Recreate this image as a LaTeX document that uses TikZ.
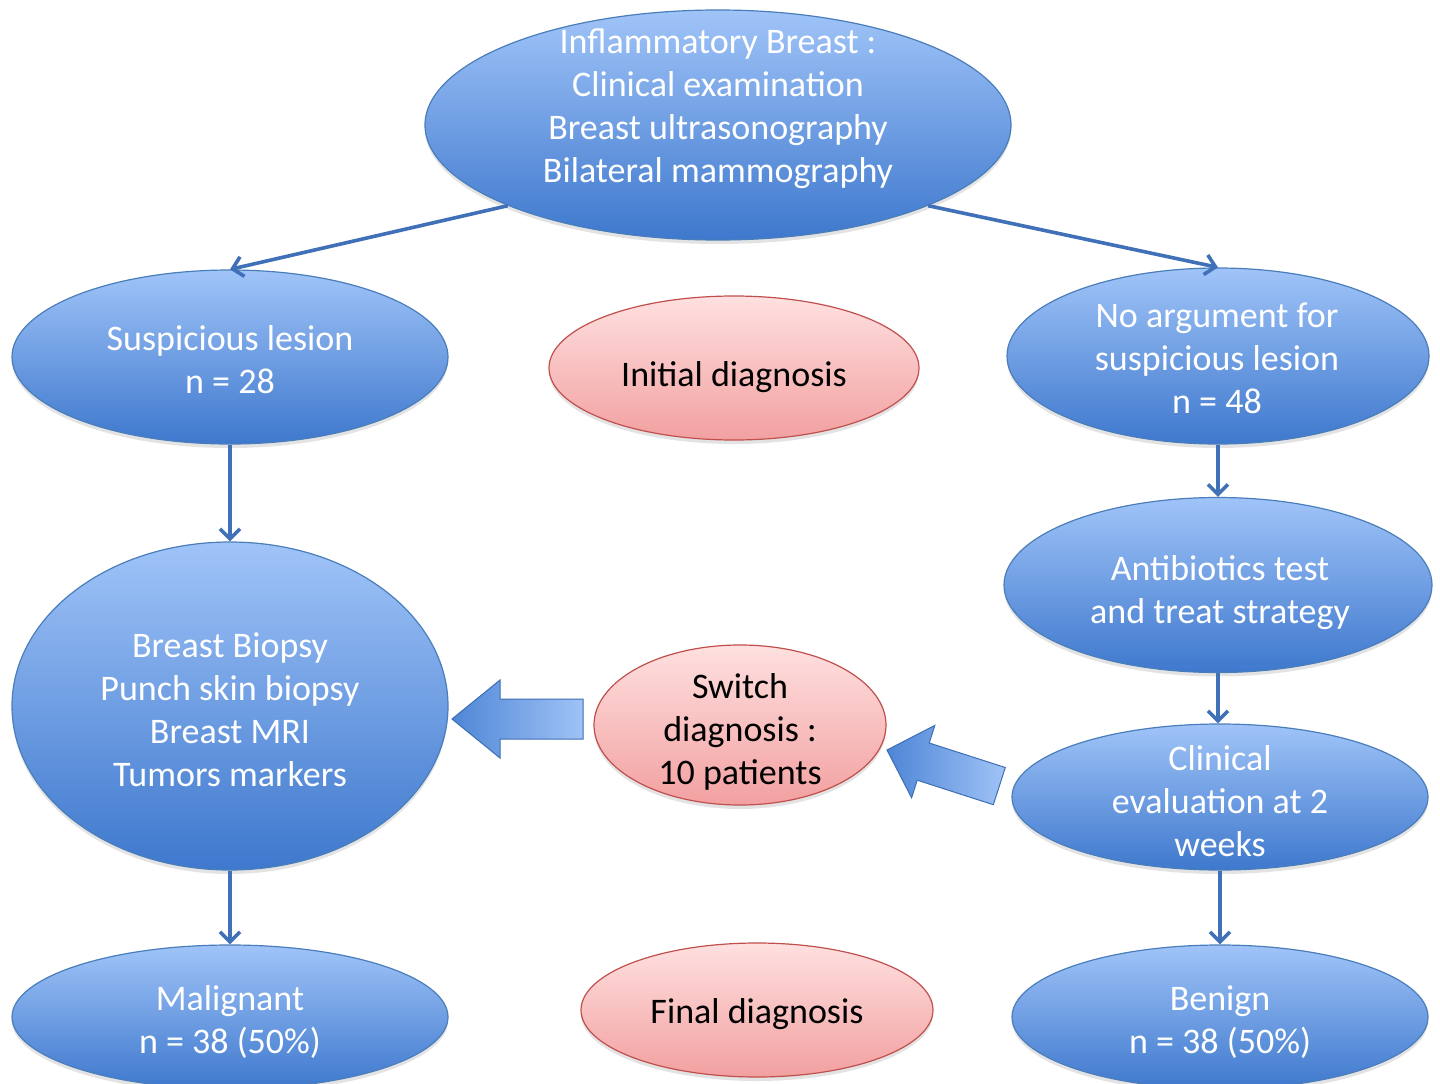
\documentclass[tikz,border=0pt]{standalone}
\usepackage{fontspec}
\setmainfont{Carlito}
\usetikzlibrary{shapes.geometric,arrows.meta,shadows}
\definecolor{bluetop}{RGB}{160,196,248}
\definecolor{bluebot}{RGB}{62,120,205}
\definecolor{blueline}{RGB}{74,126,187}
\definecolor{pinktop}{RGB}{255,224,224}
\definecolor{pinkbot}{RGB}{242,160,160}
\definecolor{pinkline}{RGB}{192,80,77}
\definecolor{connblue}{RGB}{64,112,184}
\definecolor{badark}{RGB}{78,134,214}
\definecolor{balight}{RGB}{160,195,246}
\definecolor{baline}{RGB}{62,110,180}
\begin{document}
\begin{tikzpicture}[x=1pt,y=-1pt,
  ell/.style={ellipse, inner sep=0pt, line width=1.2pt,
    drop shadow={opacity=0.22, shadow xshift=0pt, shadow yshift=-4pt}},
  blueell/.style={ell, draw=blueline, top color=bluetop, bottom color=bluebot},
  pinkell/.style={ell, draw=pinkline, top color=pinktop, bottom color=pinkbot},
  sz/.style 2 args={minimum width=#1pt, minimum height=#2pt},
  lbl/.style={align=center, inner sep=0pt, font=\fontsize{36}{43}\selectfont,
    execute at begin node=\strut, execute at end node=\strut},
  wlbl/.style={lbl, text=white},
  blbl/.style={lbl, text=black},
  conn/.style={draw=connblue, line width=3.6pt, -{Straight Barb[length=10pt,width=20pt,line width=3.6pt]}},
  blockarrow/.style={draw=baline, line width=1pt, left color=badark, right color=balight}
]
\useasboundingbox[fill=white] (0,0) rectangle (1440,1084);

% ellipses
\node[blueell, sz={586}{230}] (top) at (718,125) {};
\node[blueell, sz={436}{174}] (susp) at (230,357) {};
\node[pinkell, sz={370}{144}] (init) at (734,368) {};
\node[blueell, sz={422}{176}] (noarg) at (1218,356) {};
\node[blueell, sz={428}{175}] (anti) at (1218,585) {};
\node[blueell, sz={436}{328}] (biopsy) at (230,706) {};
\node[pinkell, sz={292}{160}] (switch) at (740,725) {};
\node[blueell, sz={416}{146}] (clin) at (1220,797) {};
\node[blueell, sz={436}{144}] (malig) at (230,1017) {};
\node[pinkell, sz={352}{134}] (final) at (757,1010) {};
\node[blueell, sz={416}{144}] (benign) at (1220,1017) {};

% texts
\node[wlbl] (toptxt) at (718,112) {Inflammatory Breast :\\Clinical examination\\Breast ultrasonography\\Bilateral mammography};
\node[wlbl] (susptxt) at (230,366) {Suspicious lesion\\n = 28};
\node[blbl] (inittxt) at (734,378) {Initial diagnosis};
\node[wlbl] (noargtxt) at (1217,365) {No argument for\\suspicious lesion\\n = 48};
\node[wlbl] (antitxt) at (1220,596) {Antibiotics test\\and treat strategy};
\node[wlbl] (biopsytxt) at (230,716) {Breast Biopsy\\Punch skin biopsy\\Breast MRI\\Tumors markers};
\node[blbl] (switchtxt) at (740,735) {Switch\\diagnosis :\\10 patients};
\node[wlbl] (clintxt) at (1220,807) {Clinical\\evaluation at 2\\weeks};
\node[wlbl] (maligtxt) at (230,1026) {Malignant\\n = 38 (50\%)};
\node[blbl] (finaltxt) at (757,1015) {Final diagnosis};
\node[wlbl] (benigntxt) at (1220,1026) {Benign\\n = 38 (50\%)};

% connectors
\draw[conn] (top.201.5) -- (susp.north);
\draw[conn] (top.-21.1) -- (noarg.north);
\draw[conn] (susp.south) -- (biopsy.north);
\draw[conn] (noarg.south) -- (anti.north);
\draw[conn] (anti.south) -- (anti.south |- clin.north);
\draw[conn] (clin.south) -- (benign.north);
\draw[conn] (biopsy.south) -- (malig.north);

% block arrows
\path[blockarrow] (452,719) -- (500,680) -- (500,699) -- (583,699) -- (583,739)
  -- (500,739) -- (500,758) -- cycle;
\path[blockarrow] (887,750) -- (934.8,725.4) -- (929.2,743.0) -- (1005.3,767.5)
  -- (993.3,804.7) -- (917.2,780.2) -- (911.6,797.8) -- cycle;
\end{tikzpicture}
\end{document}
